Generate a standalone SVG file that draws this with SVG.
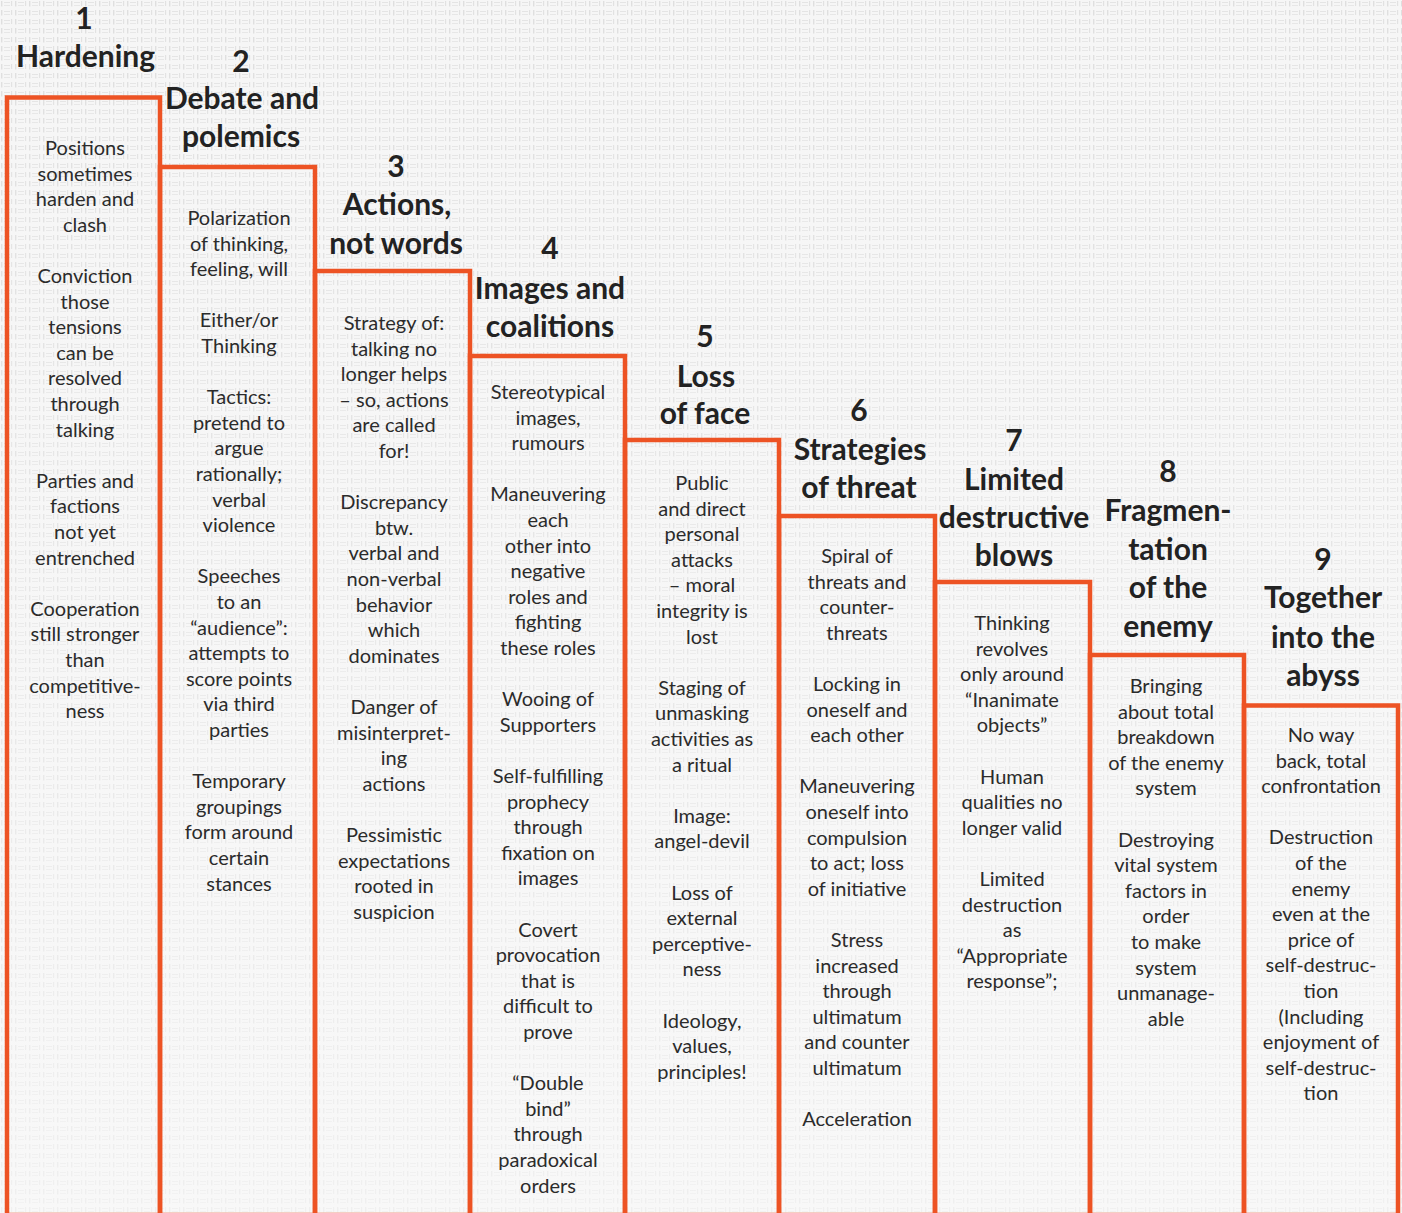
<svg xmlns="http://www.w3.org/2000/svg" width="1402" height="1213" viewBox="0 0 1402 1213">
<defs>
<pattern id="tex" width="14" height="9" patternUnits="userSpaceOnUse">
<rect x="1" y="1" width="1.4" height="5.5" fill="#dcdcdc"/>
<rect x="4" y="2" width="6" height="1" fill="#e2e2e2"/>
<rect x="4" y="5" width="6" height="1" fill="#e5e5e5"/>
<rect x="11" y="1" width="1.2" height="5" fill="#dfdfdf"/>
</pattern>
<linearGradient id="fade" x1="0" y1="0" x2="0" y2="1">
<stop offset="0" stop-color="#f6f6f6" stop-opacity="0.1"/>
<stop offset="1" stop-color="#f9f9f9" stop-opacity="0.65"/>
</linearGradient>
</defs>
<style>
.box{fill:none;stroke:#ED5324;stroke-width:4.5}
.t{font-family:Lato,"Open Sans",sans-serif;font-weight:700;font-size:30px;fill:#222;text-anchor:middle}
.b{font-family:Lato,"Open Sans",sans-serif;font-size:20px;fill:#2b2b2b;text-anchor:middle}
</style>
<rect width="1402" height="1213" fill="#f6f6f6"/>
<rect width="1402" height="1213" fill="url(#tex)"/>
<rect width="1402" height="1213" fill="url(#fade)"/>

<g id="step1">
<rect class="box" x="7" y="97.5" width="153" height="1117.5"/>
<text class="t"><tspan x="84" y="29">1</tspan><tspan x="85.5" y="67">Hardening</tspan></text>
<text class="b" y="155"><tspan x="85">Positions</tspan><tspan x="85" dy="25.6">sometimes</tspan><tspan x="85" dy="25.6">harden and</tspan><tspan x="85" dy="25.6">clash</tspan><tspan x="85" dy="51.2">Conviction</tspan><tspan x="85" dy="25.6">those</tspan><tspan x="85" dy="25.6">tensions</tspan><tspan x="85" dy="25.6">can be</tspan><tspan x="85" dy="25.6">resolved</tspan><tspan x="85" dy="25.6">through</tspan><tspan x="85" dy="25.6">talking</tspan><tspan x="85" dy="51.2">Parties and</tspan><tspan x="85" dy="25.6">factions</tspan><tspan x="85" dy="25.6">not yet</tspan><tspan x="85" dy="25.6">entrenched</tspan><tspan x="85" dy="51.2">Cooperation</tspan><tspan x="85" dy="25.6">still stronger</tspan><tspan x="85" dy="25.6">than</tspan><tspan x="85" dy="25.6">competitive-</tspan><tspan x="85" dy="25.6">ness</tspan></text>
</g>

<g id="step2">
<rect class="box" x="160" y="167" width="155" height="1048"/>
<text class="t"><tspan x="241" y="72">2</tspan><tspan x="242" y="109">Debate and</tspan><tspan x="241" y="147">polemics</tspan></text>
<text class="b" y="225"><tspan x="239">Polarization</tspan><tspan x="239" dy="25.6">of thinking,</tspan><tspan x="239" dy="25.6">feeling, will</tspan><tspan x="239" dy="51.2">Either/or</tspan><tspan x="239" dy="25.6">Thinking</tspan><tspan x="239" dy="51.2">Tactics:</tspan><tspan x="239" dy="25.6">pretend to</tspan><tspan x="239" dy="25.6">argue</tspan><tspan x="239" dy="25.6">rationally;</tspan><tspan x="239" dy="25.6">verbal</tspan><tspan x="239" dy="25.6">violence</tspan><tspan x="239" dy="51.2">Speeches</tspan><tspan x="239" dy="25.6">to an</tspan><tspan x="239" dy="25.6">“audience”:</tspan><tspan x="239" dy="25.6">attempts to</tspan><tspan x="239" dy="25.6">score points</tspan><tspan x="239" dy="25.6">via third</tspan><tspan x="239" dy="25.6">parties</tspan><tspan x="239" dy="51.2">Temporary</tspan><tspan x="239" dy="25.6">groupings</tspan><tspan x="239" dy="25.6">form around</tspan><tspan x="239" dy="25.6">certain</tspan><tspan x="239" dy="25.6">stances</tspan></text>
</g>

<g id="step3">
<rect class="box" x="315" y="271" width="155" height="944"/>
<text class="t"><tspan x="396" y="177">3</tspan><tspan x="397" y="215">Actions,</tspan><tspan x="396" y="254">not words</tspan></text>
<text class="b" y="330"><tspan x="394">Strategy of:</tspan><tspan x="394" dy="25.6">talking no</tspan><tspan x="394" dy="25.6">longer helps</tspan><tspan x="394" dy="25.6">– so, actions</tspan><tspan x="394" dy="25.6">are called</tspan><tspan x="394" dy="25.6">for!</tspan><tspan x="394" dy="51.2">Discrepancy</tspan><tspan x="394" dy="25.6">btw.</tspan><tspan x="394" dy="25.6">verbal and</tspan><tspan x="394" dy="25.6">non-verbal</tspan><tspan x="394" dy="25.6">behavior</tspan><tspan x="394" dy="25.6">which</tspan><tspan x="394" dy="25.6">dominates</tspan><tspan x="394" dy="51.2">Danger of</tspan><tspan x="394" dy="25.6">misinterpret-</tspan><tspan x="394" dy="25.6">ing</tspan><tspan x="394" dy="25.6">actions</tspan><tspan x="394" dy="51.2">Pessimistic</tspan><tspan x="394" dy="25.6">expectations</tspan><tspan x="394" dy="25.6">rooted in</tspan><tspan x="394" dy="25.6">suspicion</tspan></text>
</g>

<g id="step4">
<rect class="box" x="470" y="356" width="155" height="859"/>
<text class="t"><tspan x="550" y="259">4</tspan><tspan x="550" y="299">Images and</tspan><tspan x="550" y="337">coalitions</tspan></text>
<text class="b" y="399"><tspan x="548">Stereotypical</tspan><tspan x="548" dy="25.6">images,</tspan><tspan x="548" dy="25.6">rumours</tspan><tspan x="548" dy="51.2">Maneuvering</tspan><tspan x="548" dy="25.6">each</tspan><tspan x="548" dy="25.6">other into</tspan><tspan x="548" dy="25.6">negative</tspan><tspan x="548" dy="25.6">roles and</tspan><tspan x="548" dy="25.6">fighting</tspan><tspan x="548" dy="25.6">these roles</tspan><tspan x="548" dy="51.2">Wooing of</tspan><tspan x="548" dy="25.6">Supporters</tspan><tspan x="548" dy="51.2">Self-fulfilling</tspan><tspan x="548" dy="25.6">prophecy</tspan><tspan x="548" dy="25.6">through</tspan><tspan x="548" dy="25.6">fixation on</tspan><tspan x="548" dy="25.6">images</tspan><tspan x="548" dy="51.2">Covert</tspan><tspan x="548" dy="25.6">provocation</tspan><tspan x="548" dy="25.6">that is</tspan><tspan x="548" dy="25.6">difficult to</tspan><tspan x="548" dy="25.6">prove</tspan><tspan x="548" dy="51.2">“Double</tspan><tspan x="548" dy="25.6">bind”</tspan><tspan x="548" dy="25.6">through</tspan><tspan x="548" dy="25.6">paradoxical</tspan><tspan x="548" dy="25.6">orders</tspan></text>
</g>

<g id="step5">
<rect class="box" x="625" y="440" width="154" height="775"/>
<text class="t"><tspan x="705" y="347">5</tspan><tspan x="706" y="387">Loss</tspan><tspan x="705" y="424">of face</tspan></text>
<text class="b" y="490"><tspan x="702">Public</tspan><tspan x="702" dy="25.6">and direct</tspan><tspan x="702" dy="25.6">personal</tspan><tspan x="702" dy="25.6">attacks</tspan><tspan x="702" dy="25.6">– moral</tspan><tspan x="702" dy="25.6">integrity is</tspan><tspan x="702" dy="25.6">lost</tspan><tspan x="702" dy="51.2">Staging of</tspan><tspan x="702" dy="25.6">unmasking</tspan><tspan x="702" dy="25.6">activities as</tspan><tspan x="702" dy="25.6">a ritual</tspan><tspan x="702" dy="51.2">Image:</tspan><tspan x="702" dy="25.6">angel-devil</tspan><tspan x="702" dy="51.2">Loss of</tspan><tspan x="702" dy="25.6">external</tspan><tspan x="702" dy="25.6">perceptive-</tspan><tspan x="702" dy="25.6">ness</tspan><tspan x="702" dy="51.2">Ideology,</tspan><tspan x="702" dy="25.6">values,</tspan><tspan x="702" dy="25.6">principles!</tspan></text>
</g>

<g id="step6">
<rect class="box" x="779" y="516" width="156" height="699"/>
<text class="t"><tspan x="859" y="421">6</tspan><tspan x="860" y="460">Strategies</tspan><tspan x="859" y="498">of threat</tspan></text>
<text class="b" y="563"><tspan x="857">Spiral of</tspan><tspan x="857" dy="25.6">threats and</tspan><tspan x="857" dy="25.6">counter-</tspan><tspan x="857" dy="25.6">threats</tspan><tspan x="857" dy="51.2">Locking in</tspan><tspan x="857" dy="25.6">oneself and</tspan><tspan x="857" dy="25.6">each other</tspan><tspan x="857" dy="51.2">Maneuvering</tspan><tspan x="857" dy="25.6">oneself into</tspan><tspan x="857" dy="25.6">compulsion</tspan><tspan x="857" dy="25.6">to act; loss</tspan><tspan x="857" dy="25.6">of initiative</tspan><tspan x="857" dy="51.2">Stress</tspan><tspan x="857" dy="25.6">increased</tspan><tspan x="857" dy="25.6">through</tspan><tspan x="857" dy="25.6">ultimatum</tspan><tspan x="857" dy="25.6">and counter</tspan><tspan x="857" dy="25.6">ultimatum</tspan><tspan x="857" dy="51.2">Acceleration</tspan></text>
</g>

<g id="step7">
<rect class="box" x="935" y="582" width="155" height="633"/>
<text class="t"><tspan x="1014" y="451">7</tspan><tspan x="1014" y="490">Limited</tspan><tspan x="1014" y="528">destructive</tspan><tspan x="1014" y="566">blows</tspan></text>
<text class="b" y="630"><tspan x="1012">Thinking</tspan><tspan x="1012" dy="25.6">revolves</tspan><tspan x="1012" dy="25.6">only around</tspan><tspan x="1012" dy="25.6">“Inanimate</tspan><tspan x="1012" dy="25.6">objects”</tspan><tspan x="1012" dy="51.2">Human</tspan><tspan x="1012" dy="25.6">qualities no</tspan><tspan x="1012" dy="25.6">longer valid</tspan><tspan x="1012" dy="51.2">Limited</tspan><tspan x="1012" dy="25.6">destruction</tspan><tspan x="1012" dy="25.6">as</tspan><tspan x="1012" dy="25.6">“Appropriate</tspan><tspan x="1012" dy="25.6">response”;</tspan></text>
</g>

<g id="step8">
<rect class="box" x="1090" y="655" width="154" height="560"/>
<text class="t"><tspan x="1168" y="482">8</tspan><tspan x="1168" y="521">Fragmen-</tspan><tspan x="1168" y="560">tation</tspan><tspan x="1168" y="598">of the</tspan><tspan x="1168" y="637">enemy</tspan></text>
<text class="b" y="693"><tspan x="1166">Bringing</tspan><tspan x="1166" dy="25.6">about total</tspan><tspan x="1166" dy="25.6">breakdown</tspan><tspan x="1166" dy="25.6">of the enemy</tspan><tspan x="1166" dy="25.6">system</tspan><tspan x="1166" dy="51.2">Destroying</tspan><tspan x="1166" dy="25.6">vital system</tspan><tspan x="1166" dy="25.6">factors in</tspan><tspan x="1166" dy="25.6">order</tspan><tspan x="1166" dy="25.6">to make</tspan><tspan x="1166" dy="25.6">system</tspan><tspan x="1166" dy="25.6">unmanage-</tspan><tspan x="1166" dy="25.6">able</tspan></text>
</g>

<g id="step9">
<rect class="box" x="1244" y="705.5" width="154" height="509.5"/>
<text class="t"><tspan x="1323" y="570">9</tspan><tspan x="1323" y="608">Together</tspan><tspan x="1323" y="648">into the</tspan><tspan x="1323" y="686">abyss</tspan></text>
<text class="b" y="742"><tspan x="1321">No way</tspan><tspan x="1321" dy="25.6">back, total</tspan><tspan x="1321" dy="25.6">confrontation</tspan><tspan x="1321" dy="51.2">Destruction</tspan><tspan x="1321" dy="25.6">of the</tspan><tspan x="1321" dy="25.6">enemy</tspan><tspan x="1321" dy="25.6">even at the</tspan><tspan x="1321" dy="25.6">price of</tspan><tspan x="1321" dy="25.6">self-destruc-</tspan><tspan x="1321" dy="25.6">tion</tspan><tspan x="1321" dy="25.6">(Including</tspan><tspan x="1321" dy="25.6">enjoyment of</tspan><tspan x="1321" dy="25.6">self-destruc-</tspan><tspan x="1321" dy="25.6">tion</tspan></text>
</g>

<g id="connectors"/>
</svg>
